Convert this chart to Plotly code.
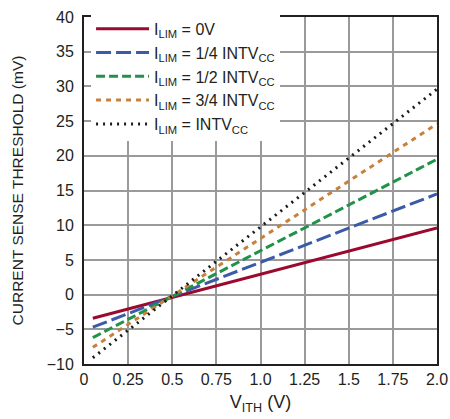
import plotly.graph_objects as go

# Data (V_ITH in volts, threshold in mV)
vith = [0.05, 2.0]
ilim_0v = [-3.4, 9.6]
ilim_quarter = [-4.7, 14.5]
ilim_half = [-6.2, 19.5]
ilim_three_quarter = [-7.6, 24.6]
ilim_full = [-9.1, 29.6]

series_names = [
    "I<sub>LIM</sub> = 0V",
    "I<sub>LIM</sub> = 1/4 INTV<sub>CC</sub>",
    "I<sub>LIM</sub> = 1/2 INTV<sub>CC</sub>",
    "I<sub>LIM</sub> = 3/4 INTV<sub>CC</sub>",
    "I<sub>LIM</sub> = INTV<sub>CC</sub>",
]
series_values = [ilim_0v, ilim_quarter, ilim_half, ilim_three_quarter, ilim_full]
colors = ["#9b0a2e", "#3b5aa8", "#22914a", "#c7813d", "#1a1a1a"]
dashes = ["solid", "15px,5px", "9px,4px", "5px,5px", "2px,5px"]

x_tickvals = [0, 0.25, 0.5, 0.75, 1.0, 1.25, 1.5, 1.75, 2.0]
x_ticktext = ["0", "0.25", "0.5", "0.75", "1.0", "1.25", "1.5", "1.75", "2.0"]
y_tickvals = [-10, -5, 0, 5, 10, 15, 20, 25, 30, 35, 40]

FONT = "Liberation Sans, Arial, sans-serif"

fig = go.Figure()
for name, vals, c, d in zip(series_names, series_values, colors, dashes):
    fig.add_trace(go.Scatter(
        x=vith, y=vals, mode="lines", name=name,
        line=dict(color=c, width=3, dash=d),
    ))

fig.update_layout(
    width=450, height=419,
    margin=dict(l=84, r=13, t=14, b=55),
    paper_bgcolor="white", plot_bgcolor="white",
    font=dict(family=FONT, size=16, color="#231f20"),
    showlegend=True,
    legend=dict(
        x=0.02, y=1.015, xanchor="left", yanchor="top",
        bgcolor="white", borderwidth=0,
        font=dict(family=FONT, size=16, color="#231f20"),
        itemwidth=53, tracegroupgap=0,
    ),
    xaxis=dict(
        range=[0, 2.0], tickvals=x_tickvals, ticktext=x_ticktext,
        showgrid=True, gridcolor="#9a9a9a", gridwidth=1.5,
        showline=True, linecolor="#231f20", linewidth=2, mirror=True,
        ticks="", zeroline=False, automargin=False,
        title=dict(text="V<sub>ITH</sub> (V)", font=dict(size=18), standoff=8),
    ),
    yaxis=dict(
        range=[-10, 40], tickvals=y_tickvals,
        showgrid=True, gridcolor="#9a9a9a", gridwidth=1.5,
        showline=True, linecolor="#231f20", linewidth=2, mirror=True,
        ticks="", zeroline=False, automargin=False, ticklabelstandoff=5,
        title=dict(text="CURRENT SENSE THRESHOLD (mV)", font=dict(size=15.5), standoff=19),
    ),
)

fig.write_html("out.html")
